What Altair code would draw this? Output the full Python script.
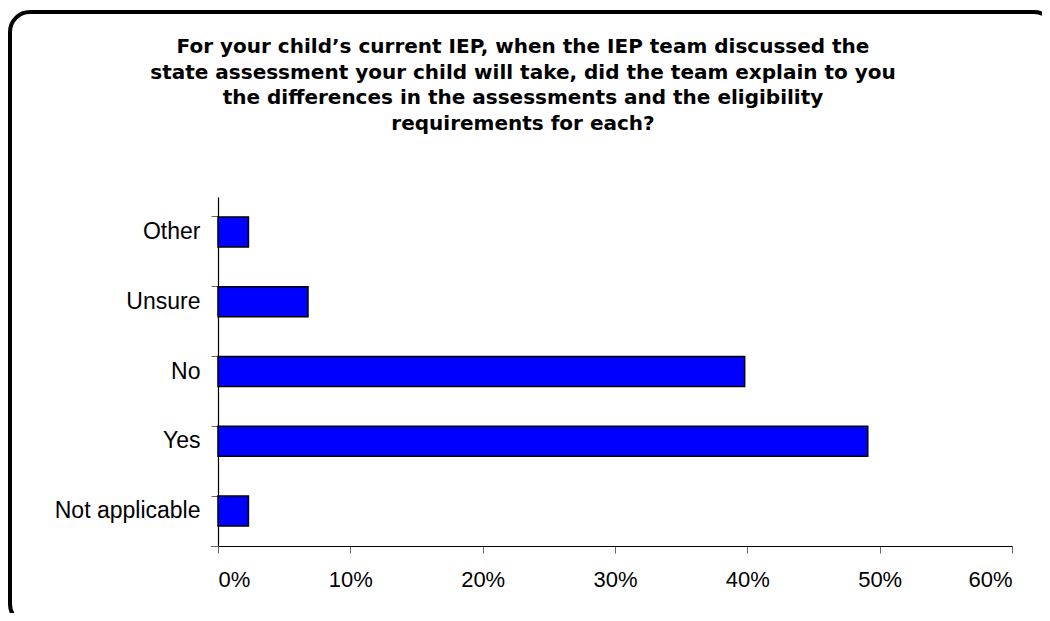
import altair as alt
import pandas as pd

categories = ["Other", "Unsure", "No", "Yes", "Not applicable"]
percents = [2.3, 6.8, 39.8, 49.1, 2.3]
x_ticks = [0, 10, 20, 30, 40, 50, 60]
title_lines = [
    "For your child\u2019s current IEP, when the IEP team discussed the",
    "state assessment your child will take, did the team explain to you",
    "the differences in the assessments and the eligibility",
    "requirements for each?",
]

df = pd.DataFrame({"category": categories, "percent": percents})

W, H = 794, 349
LEFT, TOP = 218, 197

bars = alt.Chart(df).mark_bar(
    color="#0000FF", stroke="black", strokeWidth=1.5
).encode(
    y=alt.Y(
        "category:N",
        sort=categories,
        scale=alt.Scale(paddingInner=0.57, paddingOuter=0.285),
        axis=alt.Axis(
            title=None,
            bandPosition=0,
            domainColor="black",
            domainWidth=1.2,
            tickColor="#666666",
            tickSize=7,
            labelFont="Liberation Sans",
            labelFontSize=23,
            labelColor="black",
            labelPadding=11,
        ),
    ),
    x=alt.X(
        "percent:Q",
        scale=alt.Scale(domain=[0, 60], nice=False),
        axis=alt.Axis(
            title=None,
            values=x_ticks,
            labelExpr="datum.value + '%'",
            grid=False,
            domainColor="black",
            domainWidth=1.2,
            tickColor="#666666",
            tickSize=7,
            labelFont="Liberation Sans",
            labelFontSize=22,
            labelColor="black",
            labelPadding=16,
        ),
    ),
)

# closing tick of the category axis at the bottom of the last band
end_tick = alt.Chart(pd.DataFrame({"k": [0]})).mark_rule(
    color="#666666", strokeWidth=1
).encode(
    x=alt.value(-7),
    x2=alt.value(0),
    y=alt.value(H + 0.5),
)

title = alt.Chart(pd.DataFrame({"t": ["\n".join(title_lines)]})).mark_text(
    font="DejaVu Sans",
    fontSize=20,
    fontWeight="bold",
    lineBreak="\n",
    lineHeight=25.7,
    align="center",
    baseline="middle",
    color="black",
).encode(
    text="t:N",
    x=alt.value(523 - LEFT),
    y=alt.value(47 - TOP),
)

frame = alt.Chart(pd.DataFrame({"k": [0]})).mark_rect(
    fill=None, stroke="black", strokeWidth=4, cornerRadius=20, clip=False
).encode(
    x=alt.value(10 - LEFT),
    x2=alt.value(1054 - LEFT),
    y=alt.value(12 - TOP),
    y2=alt.value(624 - TOP),
)

chart = alt.layer(bars, end_tick, title, frame).properties(
    width=W,
    height=H,
    background="white",
    autosize=alt.AutoSizeParams(type="none"),
    padding={"left": LEFT - 8, "top": TOP - 8, "right": 30, "bottom": 67},
).configure_view(strokeWidth=0)

chart.save("out.html", embed_options={"renderer": "svg", "actions": False})
